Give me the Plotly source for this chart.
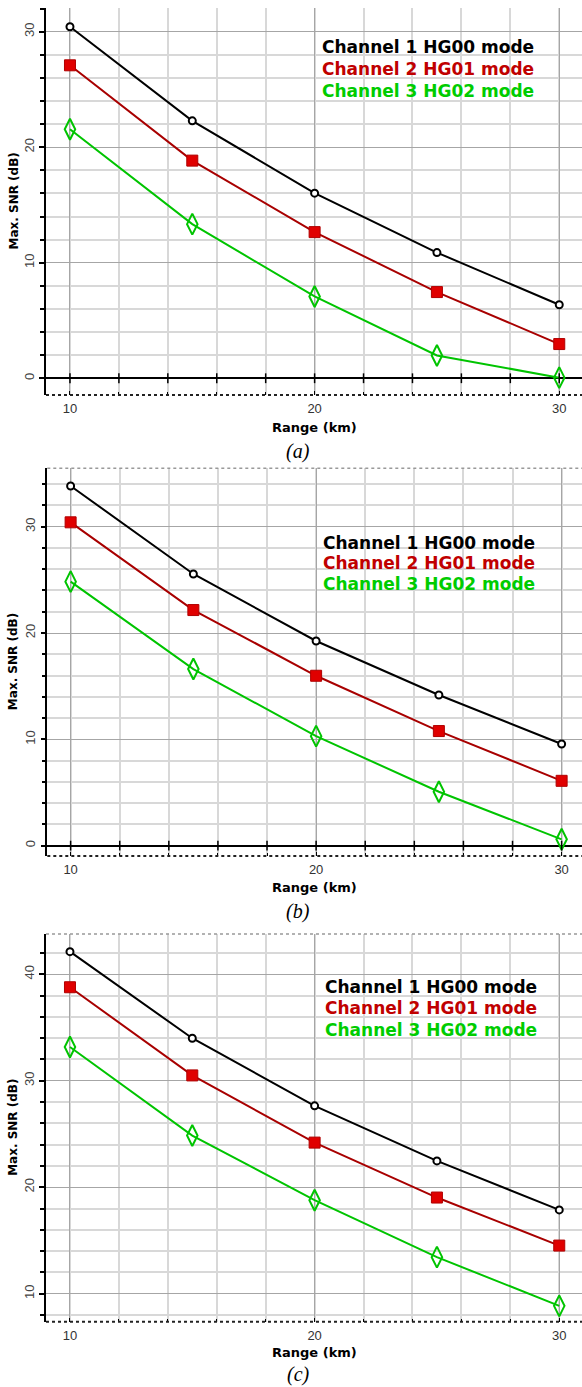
import plotly.graph_objects as go

# ---------------- data ----------------
range_km = [10, 15, 20, 25, 30]

snr_a_ch1 = [30.43, 22.28, 16.02, 10.88, 6.36]
snr_a_ch2 = [27.09, 18.84, 12.65, 7.46, 2.96]
snr_a_ch3 = [21.55, 13.34, 7.08, 1.97, 0.05]

snr_b_ch1 = [33.83, 25.55, 19.25, 14.17, 9.56]
snr_b_ch2 = [30.41, 22.16, 15.98, 10.78, 6.10]
snr_b_ch3 = [24.83, 16.61, 10.30, 5.07, 0.60]

snr_c_ch1 = [42.12, 33.99, 27.64, 22.47, 17.87]
snr_c_ch2 = [38.78, 30.50, 24.19, 19.03, 14.52]
snr_c_ch3 = [33.17, 24.85, 18.78, 13.43, 8.86]

series_names = ["Channel 1 HG00 mode", "Channel 2 HG01 mode", "Channel 3 HG02 mode"]
captions = ["(a)", "(b)", "(c)"]
x_minor_ticks = [10, 12, 14, 16, 18, 20, 22, 24, 26, 28, 30]

# ---------------- layout helpers ----------------
W, H = 582, 1387

def py(p):
    return 1 - p / H

panels = [
    dict(data=[snr_a_ch1, snr_a_ch2, snr_a_ch3], xl=46, top=8, bot=395,
         xr=[9.02, 30.93], yr=[-1.45, 32.05], zero=True, topborder=False,
         leg=(320, [46.7, 69, 91]), xtitle=427, cap=451),
    dict(data=[snr_b_ch1, snr_b_ch2, snr_b_ch3], xl=47.3, top=468.3, bot=856,
         xr=[9.05, 30.83], yr=[-0.97, 35.49], zero=True, topborder=True,
         leg=(321, [542.7, 563, 584]), xtitle=887, cap=911),
    dict(data=[snr_c_ch1, snr_c_ch2, snr_c_ch3], xl=46, top=934, bot=1321.7,
         xr=[9.02, 30.93], yr=[7.37, 43.78], zero=False, topborder=True,
         leg=(323, [986.7, 1008, 1030]), xtitle=1352, cap=1374),
]

line_colors = ["#000000", "#a80000", "#00c400"]
text_colors = ["#000000", "#c00000", "#00cc00"]

fig = go.Figure()
annotations = []
shapes = []

for i, p in enumerate(panels):
    sfx = "" if i == 0 else str(i + 1)
    xa, ya = "x" + sfx, "y" + sfx
    xdom = [p["xl"] / W, 1.0]
    ydom = [py(p["bot"]), py(p["top"])]

    d1, d2, d3 = p["data"]
    fig.add_trace(go.Scatter(
        x=range_km, y=d1, mode="lines+markers", name=series_names[0],
        line=dict(color=line_colors[0], width=2),
        marker=dict(symbol="circle", size=7, color="white",
                    line=dict(color="black", width=2)),
        xaxis=xa, yaxis=ya, showlegend=False))
    fig.add_trace(go.Scatter(
        x=range_km, y=d2, mode="lines+markers", name=series_names[1],
        line=dict(color=line_colors[1], width=2),
        marker=dict(symbol="square", size=11, color="#e00000",
                    line=dict(color="#b00000", width=1)),
        xaxis=xa, yaxis=ya, showlegend=False))
    fig.add_trace(go.Scatter(
        x=range_km, y=d3, mode="lines+markers", name=series_names[2],
        line=dict(color=line_colors[2], width=2),
        marker=dict(symbol="diamond-tall-open", size=15,
                    line=dict(color="#00c400", width=2)),
        xaxis=xa, yaxis=ya, showlegend=False))

    if p["zero"]:
        fig.add_trace(go.Scatter(
            x=x_minor_ticks, y=[0] * len(x_minor_ticks), mode="markers",
            marker=dict(symbol="line-ns", size=7,
                        line=dict(color="black", width=1.5)),
            xaxis=xa, yaxis=ya, showlegend=False, hoverinfo="skip"))

    fig.layout["xaxis" + sfx] = dict(
        domain=xdom, range=p["xr"], anchor=ya,
        tickvals=[10, 20, 30], ticks="inside", ticklen=4, tickcolor="black",
        tickfont=dict(family="Liberation Sans", size=13, color="#333333"),
        ticklabelstandoff=4,
        showgrid=True, gridcolor="#a6a6a6", gridwidth=1,
        minor=dict(dtick=2, tick0=0, showgrid=True, gridcolor="#d8d8d8",
                   gridwidth=1.5, ticks="inside", ticklen=3, tickcolor="black"),
        showline=False, zeroline=False, automargin=False, fixedrange=True)
    fig.layout["yaxis" + sfx] = dict(
        domain=ydom, range=p["yr"], anchor=xa,
        dtick=10, tick0=0, ticks="outside", ticklen=5, tickcolor="black",
        tickwidth=1.5, tickangle=-90,
        tickfont=dict(family="Liberation Sans", size=13, color="#444444"),
        showgrid=True, gridcolor="#a6a6a6", gridwidth=1,
        minor=dict(dtick=2, tick0=0, showgrid=True, gridcolor="#d8d8d8",
                   gridwidth=1.5, ticks="outside", ticklen=4, tickcolor="black"),
        showline=True, linecolor="black", linewidth=1.5,
        zeroline=p["zero"], zerolinecolor="black", zerolinewidth=1.5,
        automargin=False, fixedrange=True)

    # dotted bottom frame
    shapes.append(dict(type="line", xref=xa + " domain", yref=ya + " domain",
                       x0=0, x1=1, y0=0, y1=0,
                       line=dict(color="#222222", width=2, dash="dot")))
    if p["topborder"]:
        shapes.append(dict(type="line", xref=xa + " domain", yref=ya + " domain",
                           x0=0, x1=1, y0=1, y1=1,
                           line=dict(color="#999999", width=1.5, dash="dot")))

    # in-plot legend text
    lx, lys = p["leg"]
    for k in range(3):
        annotations.append(dict(
            text="<b>" + series_names[k] + "</b>", xref="paper", yref="paper",
            x=lx / W, y=py(lys[k]), xanchor="left", yanchor="middle",
            showarrow=False,
            font=dict(family="DejaVu Sans", size=17, color=text_colors[k])))

    # axis titles
    annotations.append(dict(
        text="<b>Max. SNR (dB)</b>", xref="paper", yref="paper",
        x=13 / W, y=(ydom[0] + ydom[1]) / 2, textangle=-90,
        xanchor="center", yanchor="middle", showarrow=False,
        font=dict(family="DejaVu Sans", size=12, color="black")))
    annotations.append(dict(
        text="<b>Range (km)</b>", xref="paper", yref="paper",
        x=(xdom[0] + xdom[1]) / 2, y=py(p["xtitle"]),
        xanchor="center", yanchor="middle", showarrow=False,
        font=dict(family="DejaVu Sans", size=13, color="black")))
    annotations.append(dict(
        text="<i>" + captions[i] + "</i>", xref="paper", yref="paper",
        x=298 / W, y=py(p["cap"]),
        xanchor="center", yanchor="middle", showarrow=False,
        font=dict(family="Liberation Serif", size=20, color="black")))

fig.update_layout(
    width=W, height=H,
    margin=dict(l=0, r=0, t=0, b=0),
    paper_bgcolor="white", plot_bgcolor="white",
    annotations=annotations, shapes=shapes,
    showlegend=False,
)

fig.write_html("out.html")
